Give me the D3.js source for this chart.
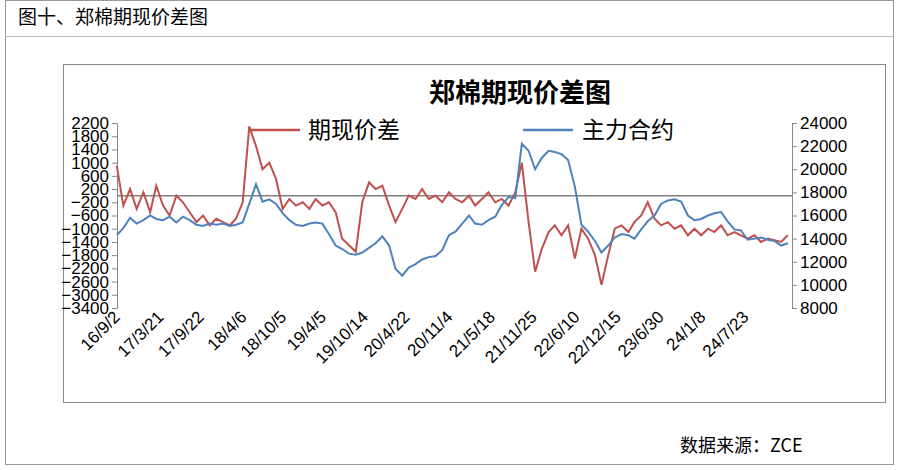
<!DOCTYPE html>
<html><head><meta charset="utf-8">
<script src="https://cdn.jsdelivr.net/npm/d3@7"></script>
<style>body{margin:0;background:#fff;}text{font-family:"Noto Sans CJK SC","Liberation Sans",sans-serif;}</style>
</head><body><div id="chart"></div>
<script>
// monthly values, 2016-09 .. 2025-02
var months = d3.timeMonths(new Date(2016, 8, 1), new Date(2025, 2, 1));
var spread = [
  900, -300, 200, -400,
  100, -500, 300, -300, -600, 0, -200, -500, -800, -600, -900, -700,
  -800, -900, -700, -200, 2100, 1500, 800, 1000, 500, -400, -100, -300,
  -200, -400, -100, -300, -200, -500, -1300, -1500, -1700, -200, 400, 200,
  300, -300, -800, -400, 0, -100, 200, -100, 0, -200, 100, -100,
  -200, 0, -300, -100, 100, -200, -100, -300, 100, 1000, -800, -2300,
  -1600, -1100, -900, -1200, -900, -1900, -1000, -1300, -1800, -2700, -1800, -1000,
  -900, -1100, -800, -600, -200, -700, -900, -800, -1000, -900, -1200, -1000,
  -1200, -1000, -1100, -900, -1200, -1100, -1200, -1300, -1200, -1400, -1300, -1350,
  -1400, -1200
];
var mainContract = [
  14300, 14900, 15800, 15300,
  15600, 16000, 15700, 15600, 15900, 15400, 15900, 15600, 15200, 15100, 15300, 15200,
  15300, 15100, 15200, 15400, 17000, 18700, 17200, 17400, 17000, 16200, 15600, 15200,
  15100, 15300, 15400, 15300, 14400, 13400, 13100, 12700, 12600, 12800, 13200, 13600,
  14200, 13400, 11400, 10800, 11500, 11800, 12200, 12400, 12500, 13000, 14300, 14600,
  15300, 16000, 15300, 15200, 15600, 15900, 16900, 17600, 17500, 22200, 21600, 20000,
  21000, 21600, 21500, 21300, 20800, 18500, 15200, 14600, 13800, 12800, 13400, 14100,
  14400, 14300, 14000, 14800, 15500, 16000, 17000, 17300, 17400, 17200, 16000, 15600,
  15700, 16000, 16200, 16300, 15500, 14800, 14700, 13900, 14000, 14100, 13900, 13800,
  13400, 13600
];
var dateLabels = ['16/9/2','17/3/21','17/9/22','18/4/6','18/10/5','19/4/5','19/10/14','20/4/22',
  '20/11/4','21/5/18','21/11/25','22/6/10','22/12/15','23/6/30','24/1/8','24/7/23'];
var leftTicks = d3.range(2200, -3401, -400);
var rightTicks = d3.range(24000, 7999, -2000);

var parse = d3.timeParse('%y/%m/%d');
var svg = d3.select('#chart').append('svg').attr('width', 905).attr('height', 470);

// outer frame
svg.append('rect').attr('x', 5.5).attr('y', 0.5).attr('width', 888).attr('height', 464)
  .attr('fill', 'none').attr('stroke', '#999');
svg.append('line').attr('x1', 5).attr('x2', 894).attr('y1', 36.5).attr('y2', 36.5).attr('stroke', '#bbb');
svg.append('text').attr('x', 18).attr('y', 24).attr('font-size', 19).text('图十、郑棉期现价差图');
svg.append('text').attr('x', 680).attr('y', 452).attr('font-size', 18).text('数据来源：ZCE');

// chart frame
svg.append('rect').attr('x', 63.5).attr('y', 64.5).attr('width', 822).attr('height', 338)
  .attr('fill', 'none').attr('stroke', '#888');
svg.append('text').attr('x', 520).attr('y', 102).attr('text-anchor', 'middle')
  .attr('font-size', 26).attr('font-weight', 'bold').text('郑棉期现价差图');

var x = d3.scaleTime().domain([new Date(2016, 8, 2), new Date(2025, 1, 20)]).range([117, 792]);
var yL = d3.scaleLinear().domain([-3400, 2200]).range([308, 123]);
var yR = d3.scaleLinear().domain([8000, 24000]).range([308, 123]);

var axL = svg.append('g').attr('transform', 'translate(117,0)')
  .call(d3.axisLeft(yL).tickValues(leftTicks).tickSize(5).tickFormat(function(d){ return d < 0 ? '−' + (-d) : d; }));
var axR = svg.append('g').attr('transform', 'translate(792,0)')
  .call(d3.axisRight(yR).tickValues(rightTicks).tickSize(5).tickFormat(d3.format('d')));
[axL, axR].forEach(function(a) {
  a.select('.domain').attr('stroke', '#888');
  a.selectAll('.tick line').attr('stroke', '#888');
  a.selectAll('text').attr('font-size', 17).attr('fill', '#000')
    .style('font-family', '"Liberation Sans", sans-serif');
});

// zero line
svg.append('line').attr('x1', 117).attr('x2', 792).attr('y1', yL(0)).attr('y2', yL(0))
  .attr('stroke', '#808080').attr('stroke-width', 1.5);

var rows = months.map(function(m, i) { return { date: m, spread: spread[i], main: mainContract[i] }; });
svg.append('path').datum(rows).attr('fill', 'none').attr('stroke', '#c0504d').attr('stroke-width', 2)
  .attr('d', d3.line().x(function(d){ return x(d.date); }).y(function(d){ return yL(d.spread); }));
svg.append('path').datum(rows).attr('fill', 'none').attr('stroke', '#4f81bd').attr('stroke-width', 2)
  .attr('d', d3.line().x(function(d){ return x(d.date); }).y(function(d){ return yR(d.main); }));

// date labels
svg.selectAll('.dl').data(dateLabels).enter().append('text')
  .attr('transform', function(d) { return 'translate(' + (x(parse(d)) + 4) + ',318) rotate(-45)'; })
  .attr('text-anchor', 'end').attr('font-size', 17)
  .style('font-family', '"Liberation Sans", sans-serif').text(function(d){ return d; });

// legend
svg.append('line').attr('x1', 250).attr('x2', 300).attr('y1', 130).attr('y2', 130).attr('stroke', '#c0504d').attr('stroke-width', 2.5);
svg.append('text').attr('x', 308).attr('y', 138).attr('font-size', 23).text('期现价差');
svg.append('line').attr('x1', 523).attr('x2', 573).attr('y1', 130).attr('y2', 130).attr('stroke', '#4f81bd').attr('stroke-width', 2.5);
svg.append('text').attr('x', 582).attr('y', 138).attr('font-size', 23).text('主力合约');
</script></body></html>
